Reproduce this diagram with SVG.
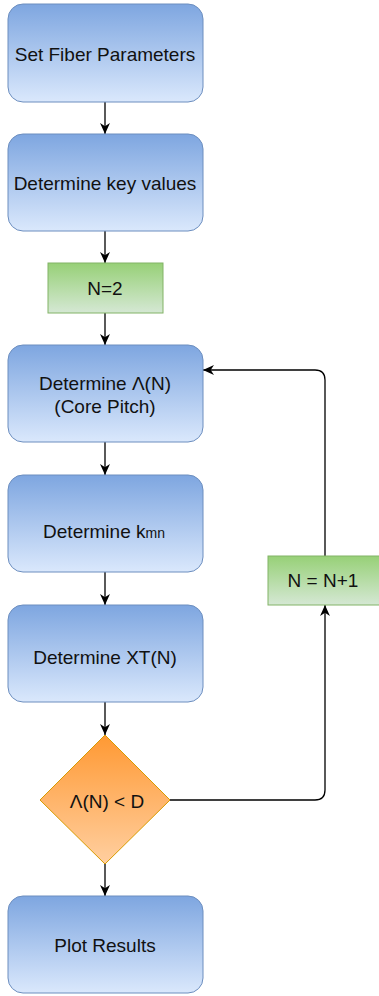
<svg xmlns="http://www.w3.org/2000/svg" width="379" height="996" viewBox="0 0 379 996">
<style>
.blue{fill:url(#gb);stroke:#6c8ebf;stroke-width:1}
.green{fill:url(#gg);stroke:#82b366;stroke-width:1}
.orange{fill:url(#go);stroke:#d79b00;stroke-width:1}
text{font-family:"Liberation Sans",Arial,sans-serif;font-size:19px;fill:#111;text-anchor:middle}
.edge{fill:none;stroke:#000;stroke-width:1.3;marker-end:url(#arr)}
</style>
<defs>
<linearGradient id="gb" x1="0" y1="0" x2="0" y2="1"><stop offset="0" stop-color="#7ea6e0"/><stop offset="1" stop-color="#dae8fc"/></linearGradient>
<linearGradient id="gg" x1="0" y1="0" x2="0" y2="1"><stop offset="0" stop-color="#97d077"/><stop offset="1" stop-color="#d5e8d4"/></linearGradient>
<linearGradient id="go" x1="0" y1="0" x2="0" y2="1"><stop offset="0" stop-color="#ff9933"/><stop offset="1" stop-color="#ffcfa0"/></linearGradient>
<marker id="arr" viewBox="0 0 10 10" refX="10" refY="5" markerWidth="11" markerHeight="11" markerUnits="userSpaceOnUse" orient="auto"><path d="M0,0.5 L10,5 L0,9.5 L3,5 z" fill="#000"/></marker>
</defs>
<g id="connectors">
<path class="edge" d="M105,102 V134"/>
<path class="edge" d="M105,231 V263"/>
<path class="edge" d="M105,313 V345"/>
<path class="edge" d="M105,442 V475"/>
<path class="edge" d="M105,572 V605"/>
<path class="edge" d="M105,702 V735"/>
<path class="edge" d="M105,864 V896"/>
<path class="edge" d="M170,800 H315 Q325,800 325,790 V605"/>
<path class="edge" d="M325,556 V380 Q325,370 315,370 H203"/>
</g>
<g id="n1"><rect class="blue" x="8" y="4" width="195" height="98" rx="15"/><text x="105" y="61">Set Fiber Parameters</text></g>
<g id="n2"><rect class="blue" x="8" y="134" width="195" height="97" rx="15"/><text x="105" y="190">Determine key values</text></g>
<g id="n3"><rect class="green" x="48" y="263" width="115" height="50"/><text x="105" y="295">N=2</text></g>
<g id="n4"><rect class="blue" x="8" y="345" width="195" height="97" rx="15"/><text x="105" y="390">Determine Λ(N)</text><text x="105" y="413">(Core Pitch)</text></g>
<g id="n5"><rect class="blue" x="8" y="475" width="195" height="97" rx="15"/><text x="104" y="538">Determine k<tspan font-size="14">mn</tspan></text></g>
<g id="n6"><rect class="blue" x="8" y="605" width="195" height="97" rx="15"/><text x="105" y="664">Determine XT(N)</text></g>
<g id="n7"><path class="orange" d="M105,735 L170,800 L105,864 L40,800 Z"/><text x="107" y="808">Λ(N) &lt; D</text></g>
<g id="n8"><rect class="green" x="268" y="556" width="114" height="49"/><text x="323" y="587">N = N+1</text></g>
<g id="n9"><rect class="blue" x="8" y="896" width="195" height="97" rx="15"/><text x="105" y="952">Plot Results</text></g>
</svg>
